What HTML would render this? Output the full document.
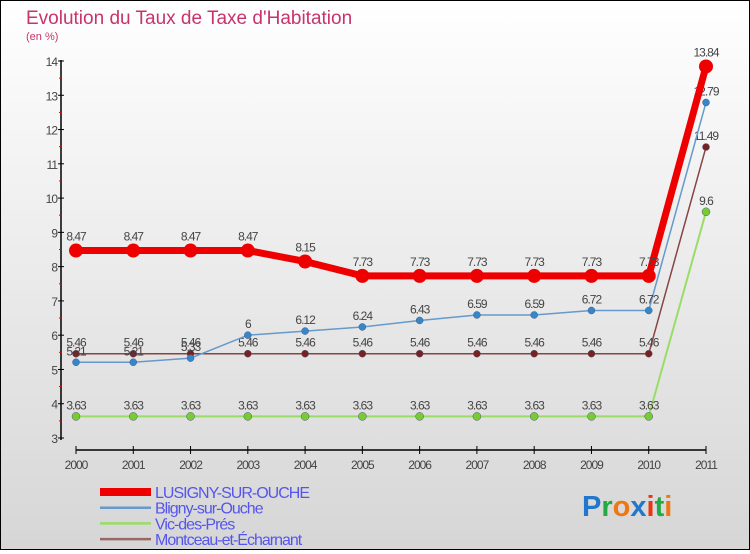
<!DOCTYPE html>
<html><head><meta charset="utf-8"><style>
html,body{margin:0;padding:0}
body{width:750px;height:550px;overflow:hidden;font-family:"Liberation Sans",sans-serif}
#wrap{position:relative;width:748px;height:548px;border:1px solid #000;background:linear-gradient(#ffffff,#d6d6d6)}
</style></head><body>
<div id="wrap">
<svg id="chart" width="748" height="548" viewBox="1 1 748 548" font-family="Liberation Sans, sans-serif"></svg>
</div>
<script>
const years=["2000","2001","2002","2003","2004","2005","2006","2007","2008","2009","2010","2011"];
const lusigny=[8.47,8.47,8.47,8.47,8.15,7.73,7.73,7.73,7.73,7.73,7.73,13.84];
const bligny=[5.21,5.21,5.33,6,6.12,6.24,6.43,6.59,6.59,6.72,6.72,12.79];
const vic=[3.63,3.63,3.63,3.63,3.63,3.63,3.63,3.63,3.63,3.63,3.63,9.6];
const montceau=[5.46,5.46,5.46,5.46,5.46,5.46,5.46,5.46,5.46,5.46,5.46,11.49];
const yTicks=[3,4,5,6,7,8,9,10,11,12,13,14];
const names=["LUSIGNY-SUR-OUCHE","Bligny-sur-Ouche","Vic-des-Prés","Montceau-et-Écharnant"];
const NS="http://www.w3.org/2000/svg";
const svg=document.getElementById('chart');
const x=i=>76+i*(706-76)/11;
const y=v=>438-(v-3)*(438-61)/11;
function mk(t,a,p){const e=document.createElementNS(NS,t);for(const k in a)e.setAttribute(k,a[k]);(p||svg).appendChild(e);return e;}
let t=mk('text',{x:26,y:24,fill:'#c8336b','font-size':19});t.textContent='Evolution du Taux de Taxe d\'Habitation';


t=mk('text',{x:26,y:40,fill:'#c8336b','font-size':11});t.textContent='(en %)';


let a=mk('line',{x1:61,y1:60,x2:61,y2:440,stroke:'#000','stroke-width':1.5});


a=mk('line',{x1:76,y1:450,x2:706,y2:450,stroke:'#000','stroke-width':1.5});


yTicks.forEach(v=>{
 mk('line',{x1:58,y1:y(v),x2:64,y2:y(v),stroke:'#000'});
 if(v<14) mk('line',{x1:59,y1:y(v+0.5),x2:62,y2:y(v+0.5),stroke:'#e00'});
 const l=mk('text',{x:57,y:y(v)+5,'text-anchor':'end','font-size':12,fill:'#444','letter-spacing':'-1'});l.textContent=v;
 
 
});
years.forEach((yr,i)=>{
 mk('line',{x1:x(i),y1:446,x2:x(i),y2:454,stroke:'#000'});
 const l=mk('text',{x:x(i),y:469,'text-anchor':'middle','font-size':12,fill:'#444','letter-spacing':'-1'});l.textContent=yr;
 
 
});
const series=[
 {d:vic,c:'#99dd66',dot:'#77cc33',w:2,r:4,n:'vic'},
 {d:montceau,c:'#884444',dot:'#772222',w:1.5,r:3.5,n:'montceau'},
 {d:bligny,c:'#6699cc',dot:'#3388cc',w:1.5,r:3.5,n:'bligny'},
 {d:lusigny,c:'#ee0000',dot:'#ee0000',w:7,r:7,n:'lusigny'}];
series.forEach(s=>{
 const g=mk('g',{});
 
 
 const p=mk('polyline',{points:s.d.map((v,i)=>x(i)+','+y(v)).join(' '),fill:'none',stroke:s.c,'stroke-width':s.w,'stroke-linejoin':'round'},g);
 
 
 s.d.forEach((v,i)=>{
  const c=mk('circle',{cx:x(i),cy:y(v),r:s.r,fill:s.dot,stroke:s.n==='lusigny'?'none':'#557','stroke-width':0.5},g);
  
  
  const l=mk('text',{x:x(i),y:y(v)-(s.n==='lusigny'?10:7),'text-anchor':'middle','font-size':12,fill:'#444','letter-spacing':'-1'},g);
  l.textContent=v;
  
  
 });
});
const lc=['#ee0000','#6699cc','#99dd66','#996666'],lw=[8,2.5,2.5,2.5];
names.forEach((n,i)=>{
 const g=mk('g',{});
 
 
 const yy=492+i*15.7;
 mk('line',{x1:100,y1:yy,x2:151,y2:yy,stroke:lc[i],'stroke-width':lw[i]},g);
 const l=mk('text',{x:155,y:yy+6,'font-size':16,fill:'#5555ee','letter-spacing':'-1'},g);l.textContent=n;
});
const logo=mk('text',{x:582,y:516,'font-size':29,'font-weight':'bold'});


[['P','#2277cc'],['r','#22aa44'],['o','#ee7711'],['x','#2277cc'],['i','#ee3311'],['t','#22aa44'],['i','#ee7711']].forEach(([ch,c])=>{const s=mk('tspan',{fill:c},logo);s.textContent=ch;});
</script>
</body></html>
